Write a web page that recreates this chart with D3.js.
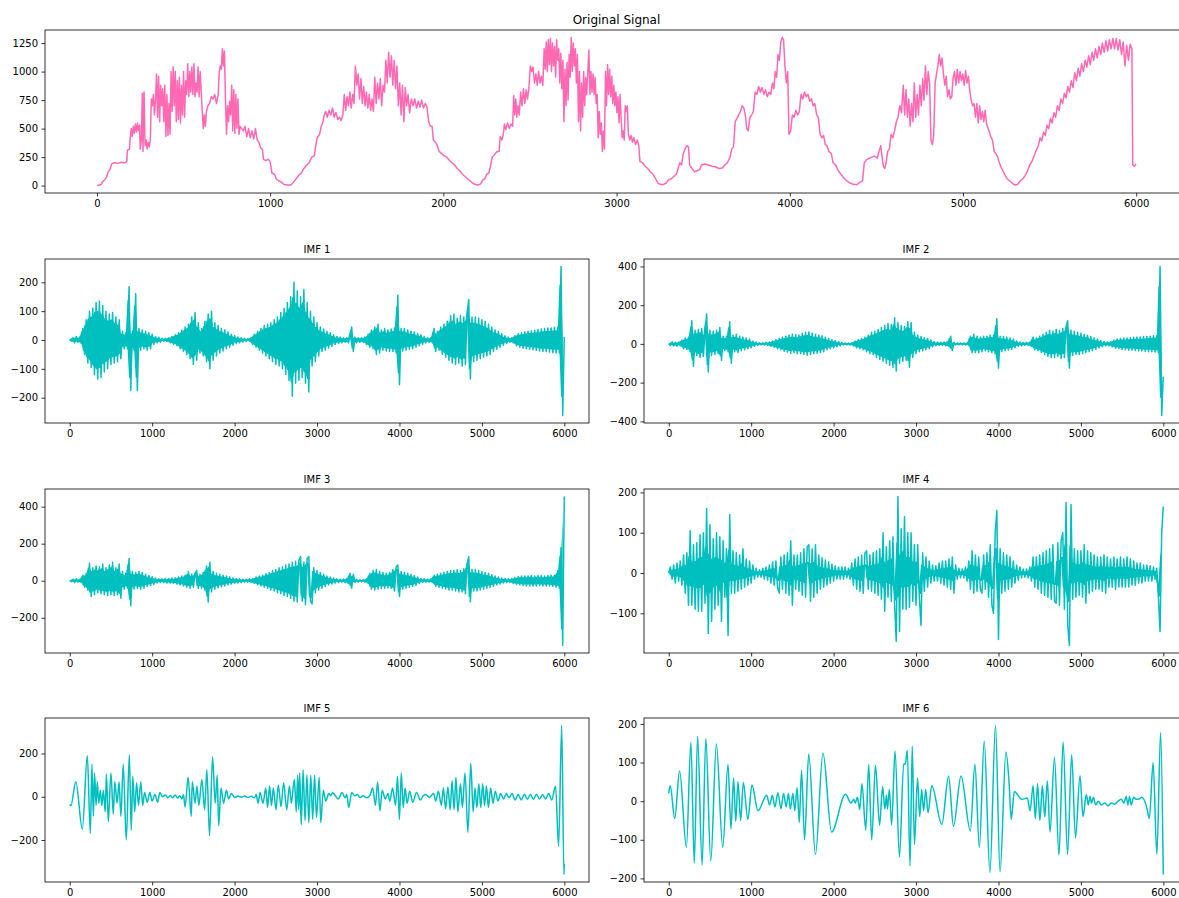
<!DOCTYPE html>
<html>
<head>
<meta charset="utf-8">
<script src="https://cdn.jsdelivr.net/npm/d3@7"></script>
<style>
  body { margin: 0; background: #fff; }
  svg { display: block; font-family: "DejaVu Sans", sans-serif; }
</style>
</head>
<body>
<svg id="chart" width="1179" height="898"></svg>
<script>
// EMD decomposition: original signal + 6 IMFs

const xTicks = [0, 1000, 2000, 3000, 4000, 5000, 6000];
const originalYTicks = [0, 250, 500, 750, 1000, 1250];
const imf1YTicks = [-200, -100, 0, 100, 200];
const imf2YTicks = [-400, -200, 0, 200, 400];
const imf3YTicks = [-200, 0, 200, 400];
const imf4YTicks = [-100, 0, 100, 200];
const imf5YTicks = [-200, 0, 200];
const imf6YTicks = [-200, -100, 0, 100, 200];

// original signal, [sample, value]
const originalPts = [
  [0,0],[15,5],[25,10],[30,30],[40,45],[50,60],[55,75],[65,120],[75,140],[85,190],[100,200],[120,195],[140,205],[160,200],[172,210],[176,310],[188,320],[192,420],[198,500],[204,430],
  [210,520],[216,460],[222,540],[228,470],[234,550],[240,480],[246,530],[250,320],[256,400],[262,810],[266,300],[272,820],[278,350],[284,400],[290,320],[296,380],[302,340],[308,400],[314,760],[320,700],
  [326,800],[332,620],[338,750],[344,980],[350,600],[356,960],[362,560],[368,880],[374,700],[380,850],[386,560],[392,880],[398,430],[404,800],[410,440],[416,720],[422,450],[428,1000],[434,650],[440,1040],
  [446,700],[452,1000],[458,560],[464,920],[470,580],[476,950],[482,550],[488,880],[494,620],[500,1000],[506,600],[512,920],[518,800],[524,1070],[530,780],[536,1000],[542,820],[548,1040],[554,800],[560,1070],
  [566,780],[572,900],[578,820],[584,1040],[590,780],[596,1000],[602,820],[608,650],[614,500],[620,620],[626,520],[632,650],[640,700],[650,720],[660,780],[670,760],[680,800],[690,720],[700,800],[706,1000],
  [712,1050],[718,1020],[724,1200],[730,1050],[736,1180],[742,750],[748,450],[754,700],[760,560],[766,740],[772,620],[778,880],[784,480],[790,840],[796,460],[802,800],[808,500],[814,760],[820,450],[826,520],
  [835,500],[845,480],[855,520],[865,430],[875,500],[885,420],[895,480],[905,410],[915,500],[925,400],[935,380],[945,330],[955,320],[962,230],[975,220],[990,230],[1000,210],
  [1010,110],[1025,100],[1035,60],[1050,40],[1065,30],[1080,10],[1100,5],[1120,5],[1135,30],[1150,60],[1165,90],[1180,110],[1195,150],[1210,180],[1225,200],[1240,250],[1255,260],[1262,340],[1272,420],[1285,450],
  [1295,520],[1305,560],[1312,620],[1320,650],[1330,600],[1340,660],[1350,620],[1360,680],[1370,600],[1380,640],[1390,580],[1400,600],[1410,570],[1420,620],[1428,800],[1436,660],[1444,780],[1452,700],[1460,820],[1468,680],
  [1476,800],[1484,720],[1492,1050],[1500,880],[1508,980],[1516,760],[1524,940],[1532,720],[1540,870],[1548,700],[1556,820],[1564,680],[1572,800],[1580,660],[1588,760],[1596,650],[1604,950],[1612,720],[1620,900],[1628,760],
  [1636,940],[1644,700],[1652,880],[1660,820],[1668,1100],[1676,900],[1684,1170],[1692,950],[1700,1140],[1708,880],[1716,1100],[1724,850],[1732,1050],[1740,700],[1748,900],[1756,620],[1764,880],[1772,560],[1780,860],[1788,700],
  [1796,800],[1805,640],[1815,760],[1825,700],[1835,760],[1845,680],[1855,740],[1865,690],[1875,750],[1885,680],[1895,720],[1905,690],[1915,560],[1925,520],[1935,520],[1942,400],[1955,380],[1965,350],[1975,300],[1990,280],
  [2005,260],[2020,250],[2035,220],[2050,200],[2065,180],[2080,150],[2095,130],[2110,100],[2125,80],[2140,60],[2155,40],[2170,20],[2185,10],[2200,5],[2215,15],[2228,50],[2240,60],[2250,100],[2262,110],[2272,170],
  [2282,250],[2295,270],[2310,300],[2322,300],[2328,430],[2338,400],[2346,450],[2352,540],[2360,490],[2370,550],[2380,500],[2390,540],[2400,520],[2406,790],[2412,620],[2418,760],[2424,600],[2430,700],[2438,620],[2446,820],
  [2454,700],[2462,850],[2470,720],[2478,840],[2486,760],[2494,860],[2502,1050],[2510,1000],[2518,1040],[2526,900],[2534,980],[2542,880],[2550,1000],[2558,900],[2566,960],[2574,880],[2582,1200],[2588,1020],[2594,1260],[2600,1000],
  [2606,1280],[2612,1060],[2618,1290],[2624,1000],[2630,1250],[2636,1050],[2642,1220],[2648,950],[2654,1280],[2660,1100],[2666,1200],[2672,900],[2678,1160],[2684,850],[2690,1100],[2696,560],[2702,1020],[2708,700],[2714,1080],[2720,750],
  [2726,1150],[2732,950],[2738,1300],[2744,1000],[2750,1250],[2756,1050],[2762,1200],[2768,900],[2774,1150],[2780,560],[2786,1000],[2792,480],[2798,900],[2804,600],[2810,1000],[2816,700],[2822,950],[2828,800],[2834,1000],[2840,1190],
  [2846,800],[2852,1000],[2858,820],[2864,980],[2870,800],[2876,950],[2882,720],[2888,800],[2894,420],[2900,650],[2906,450],[2912,550],[2918,300],[2924,480],[2930,320],[2936,1000],[2942,700],[2948,1060],[2954,800],[2960,1020],
  [2966,780],[2972,960],[2978,720],[2984,880],[2990,700],[2996,820],[3002,640],[3008,780],[3014,550],[3020,800],[3026,600],[3032,420],[3038,480],[3044,400],[3050,700],[3056,650],[3062,700],[3068,450],[3076,400],[3084,440],
  [3092,380],[3100,420],[3110,360],[3120,400],[3128,350],[3135,210],[3150,200],[3165,170],[3180,150],[3195,120],[3210,100],[3225,60],[3240,20],[3255,10],[3270,10],[3285,20],[3300,50],[3315,60],[3330,80],[3345,100],
  [3355,150],[3365,200],[3375,180],[3385,280],[3395,320],[3405,350],[3415,340],[3422,180],[3435,150],[3450,120],[3465,130],[3480,140],[3490,180],[3510,190],[3530,180],[3550,170],[3570,165],[3590,150],[3610,155],[3625,180],
  [3640,200],[3655,250],[3665,320],[3675,340],[3685,560],[3695,590],[3705,620],[3715,650],[3725,700],[3735,680],[3745,600],[3752,500],[3760,480],[3770,600],[3780,620],[3790,650],[3800,820],[3810,800],[3820,870],[3830,820],
  [3840,860],[3850,800],[3860,840],[3870,780],[3880,820],[3890,800],[3900,900],[3908,850],[3916,1000],[3924,950],[3932,1150],[3940,1100],[3948,1260],[3956,1300],[3964,1280],[3972,1050],[3980,900],[3988,1000],[3995,450],[4005,480],
  [4015,620],[4025,600],[4035,660],[4045,620],[4055,650],[4065,800],[4075,760],[4085,820],[4095,780],[4105,800],[4115,740],[4125,760],[4135,700],[4145,720],[4155,620],[4165,600],[4175,450],[4185,420],[4195,440],[4205,360],
  [4215,350],[4225,300],[4240,280],[4250,200],[4265,180],[4280,130],[4295,100],[4310,70],[4330,40],[4350,20],[4370,10],[4390,10],[4405,30],[4420,40],[4430,200],[4445,230],[4460,240],[4475,250],[4490,260],[4505,240],
  [4515,300],[4525,350],[4532,260],[4540,170],[4548,150],[4556,200],[4565,300],[4575,320],[4585,450],[4595,420],[4605,480],[4615,560],[4625,600],[4635,700],[4645,640],[4655,880],[4663,620],[4671,840],[4679,600],[4687,760],
  [4695,520],[4703,720],[4711,560],[4719,900],[4727,600],[4735,800],[4743,620],[4751,880],[4759,700],[4767,940],[4775,750],[4783,1050],[4791,800],[4799,1000],[4807,900],[4815,400],[4823,360],[4831,450],[4839,900],[4847,980],
  [4855,1050],[4863,1150],[4871,1050],[4879,1120],[4887,980],[4895,880],[4903,960],[4911,780],[4919,840],[4927,760],[4935,780],[4943,950],[4951,1000],[4959,880],[4967,1020],[4975,900],[4983,1000],[4991,920],[4999,980],[5007,880],
  [5015,1010],[5023,900],[5031,960],[5040,820],[5048,740],[5056,700],[5064,720],[5072,600],[5080,720],[5088,550],[5096,700],[5104,580],[5112,650],[5120,560],[5128,660],[5136,540],[5150,480],[5160,430],[5170,400],[5180,300],
  [5190,280],[5200,250],[5210,200],[5220,160],[5230,130],[5240,100],[5255,60],[5270,40],[5285,20],[5300,5],[5315,10],[5330,40],[5345,60],[5360,90],[5370,120],[5385,180],[5400,220],[5410,260],[5420,300],[5435,350],
  [5445,420],[5455,390],[5465,470],[5475,440],[5485,530],[5495,500],[5505,590],[5515,550],[5525,640],[5535,600],[5545,700],[5555,660],[5565,760],[5575,720],[5585,810],[5595,770],[5605,870],[5615,820],[5625,920],[5635,860],
  [5645,990],[5655,920],[5665,1030],[5675,960],[5685,1070],[5695,1000],[5705,1100],[5715,1040],[5725,1140],[5735,1060],[5745,1170],[5755,1100],[5765,1200],[5775,1120],[5785,1220],[5795,1150],[5805,1250],[5815,1170],[5825,1270],[5835,1180],
  [5845,1280],[5855,1200],[5865,1290],[5875,1200],[5885,1290],[5895,1190],[5905,1280],[5915,1150],[5925,1260],[5935,1050],[5945,1230],[5955,1100],[5965,1240],[5975,1200],[5980,180],[5990,170],[5999,190]
];

// IMF 1-4: one value every 20 samples (last one is sample 5999)
const imf1 = [
  3,-4,8,-10,12,-8,10,-12,40,-50,70,-80,100,-95,110,-120,130,-135,135,-130,
  120,-110,100,-100,90,-85,95,-80,80,-75,70,-65,30,-30,25,-30,185,-175,30,-35,
  160,-175,40,-35,35,-30,30,-35,25,-30,20,-15,12,-10,10,-8,6,-5,6,-5,
  8,-10,12,-15,18,-20,25,-30,35,-40,45,-50,55,-65,80,-85,95,-70,60,-45,
  40,-55,65,-75,90,-100,100,-70,60,-55,50,-45,40,-38,35,-30,28,-25,20,-18,
  15,-12,10,-10,8,-7,6,-5,5,-4,8,-15,20,-25,30,-35,40,-45,50,-55,
  55,-65,60,-75,70,-85,80,-90,95,-100,110,-120,130,-140,150,-195,200,-150,170,-140,
  150,-130,175,-150,130,-180,100,-90,80,-75,60,-55,45,-40,38,-35,30,-28,25,-22,
  18,-15,12,-12,10,-10,8,-8,8,-10,12,45,-40,10,-10,8,-8,8,-8,10,
  -15,20,-25,35,-30,45,-50,55,-45,35,-35,40,-38,35,-40,38,-40,42,-45,155,
  -155,40,-38,40,-35,35,-32,30,-30,28,-25,22,-20,18,-15,12,-10,8,-8,8,
  -10,40,-40,30,-35,45,-50,55,-60,65,-70,85,-80,90,-85,75,-80,85,-90,80,
  -85,90,140,-135,80,-75,80,-70,75,-65,70,-60,65,-55,55,-50,45,-40,35,-32,
  30,-25,22,-18,15,-12,10,-8,8,-10,15,-20,22,-25,25,-28,28,-30,30,-32,
  32,-34,34,-36,36,-38,38,-40,40,-40,42,-42,42,-44,44,-45,45,-45,255,-262,
  10
];
const imf2 = [
  2,-8,10,-10,8,-12,10,-10,20,-25,30,-28,35,-40,120,-115,70,-60,75,-70,
  80,-65,60,155,-145,70,-60,65,-55,70,-50,85,-85,40,-35,40,-40,115,-100,45,
  -40,50,-45,40,-35,35,-30,30,-25,25,-20,15,-12,10,-8,6,-5,6,-6,8,
  -8,10,-12,15,-18,22,-25,28,-30,35,-38,40,-42,45,-48,50,-45,48,-50,45,
  -50,55,-55,60,-58,62,-55,55,-50,50,-48,45,-45,42,-40,35,-30,28,-25,22,
  -20,18,-15,12,-10,8,-6,5,-5,4,-5,6,-10,15,-20,22,-25,28,-30,35,
  -40,45,-50,60,-55,65,-70,75,-80,85,-90,95,-100,105,-110,100,-120,135,-140,110,
  -100,95,-90,90,-85,115,-120,110,-70,60,-50,45,-40,38,-35,32,-30,28,-25,20,
  -15,12,-10,10,-8,8,-8,10,-10,12,-15,40,-35,8,-6,5,-5,5,-5,5,
  -5,6,-8,40,-45,50,-45,40,-45,35,-40,40,-35,40,-40,45,-45,45,-50,130,
  -125,40,-40,38,-35,35,-32,30,-28,25,-20,15,-12,10,-10,8,-8,8,-8,10,
  -12,35,-30,30,-35,40,-45,50,-55,60,-65,70,-70,65,-70,75,-65,70,-75,80,
  -70,90,120,-125,70,-60,65,-55,60,-55,55,-50,50,-45,45,-40,38,-35,30,-28,
  25,-20,18,-15,12,-10,10,-10,12,-15,20,-22,25,-25,28,-28,30,-30,30,-32,
  32,-32,34,-34,35,-35,36,-36,38,-38,38,-40,40,-40,42,-42,42,-45,400,-370,
  -170
];
const imf3 = [
  2,-5,8,-10,10,-8,8,-10,30,-35,40,-50,95,-85,70,-75,80,-65,75,-70,
  90,-75,70,-80,85,-75,100,-80,70,-75,90,-95,50,-45,40,-40,120,-135,50,-45,
  45,-40,50,-45,45,-40,35,-30,28,-25,22,-20,15,-12,10,-10,10,-10,12,-12,
  12,-12,14,-14,15,-18,20,-22,25,-28,30,-35,50,-40,35,-35,38,55,-40,35,
  -40,45,-50,80,-115,100,-60,50,-45,40,-38,35,-32,30,-28,25,-22,20,-18,15,
  -14,12,-12,10,-10,8,-8,8,-8,10,-10,12,-15,20,-22,25,-28,30,-35,38,
  -40,45,-50,55,-55,60,-65,70,-70,75,-80,85,-85,90,-95,100,-110,105,-115,110,
  130,-110,100,-130,120,130,-110,-125,70,-65,55,-50,45,-40,35,-30,25,-22,20,-18,
  15,-12,10,-10,8,-8,8,-10,12,-15,40,-40,35,-10,8,-8,6,-6,6,-8,
  10,-15,40,-45,55,-50,60,-45,50,-40,45,-40,40,-38,45,-40,60,-55,75,85,
  -85,50,-45,45,-40,40,-35,35,-30,28,-25,20,-15,12,-10,10,-8,8,-8,10,
  -10,30,-30,35,-35,40,-40,45,-45,50,-50,55,-50,55,-55,60,-60,55,-60,65,
  -70,90,130,-115,60,-55,60,-55,55,-50,50,-45,45,-40,40,-35,32,-30,25,-22,
  20,-18,15,-12,12,-10,10,-10,12,-15,18,-20,22,-22,25,-25,25,-28,25,-28,
  28,-28,25,-28,28,-25,28,-28,25,-28,28,-28,30,-30,30,-35,55,-40,180,-350,
  455
];
const imf4 = [
  0,15,-15,20,-25,25,-20,30,-30,45,-50,50,-80,105,-80,70,-90,75,-95,95,
  -95,100,-75,160,-150,120,-120,85,-90,100,-80,90,-120,80,-60,60,-155,145,-50,55,
  -50,50,-45,45,-40,60,-35,35,-30,30,-25,20,-15,12,-10,8,-10,12,-15,15,
  -18,20,-25,28,-30,30,-35,-50,40,-40,45,-50,50,-55,80,-80,45,-40,45,-45,
  50,-55,60,-60,65,70,-70,60,-60,70,-50,45,-40,38,-35,32,-30,28,-25,22,
  -20,18,-15,15,-15,15,-15,15,-12,12,-15,25,-30,35,-40,40,-45,45,-50,50,
  55,-40,45,-45,50,-50,55,-55,60,-65,100,-95,65,-60,80,-70,90,-80,-170,190,
  -145,110,-90,140,-90,100,-85,100,-70,70,-80,70,-60,-130,50,-45,40,-35,30,-25,
  20,-20,18,-20,25,-25,30,-30,30,-35,35,-40,40,-50,20,-15,12,-12,10,-12,
  15,-20,30,-40,55,-50,45,-45,40,-40,-50,45,-40,50,-60,70,-80,-100,100,155,
  -165,60,-50,50,-45,45,-40,40,-35,30,-25,20,-18,15,-12,10,-10,10,-12,15,
  -20,40,-35,40,-40,45,-50,50,-55,55,-60,60,-65,70,-70,-75,75,-80,80,100,
  -90,175,-130,-180,170,-65,60,-60,55,-55,55,-60,70,-75,55,-50,50,-45,45,-40,
  40,-40,40,-45,45,-50,40,-35,35,-35,40,-40,35,-35,40,-35,35,-35,40,-35,
  35,-30,30,-30,25,-25,25,-25,20,-20,20,-20,18,-20,15,-15,12,-60,-145,100,
  165
];

// IMF 5-6: turning points [sample, value]
const imf5Pts = [
  [0,-35],[14,-42],[74,70],[153,-150],[213,190],[250,-170],[269,150],[287,-90],[301,110],[320,-40],[334,70],[352,-30],[371,30],[389,-40],[408,30],[430,-70],[445,105],[468,-115],[500,110],[528,-80],
  [547,70],[575,-30],[598,70],[621,-90],[649,150],[686,-200],[723,195],[746,-155],[765,95],[788,-70],[811,65],[834,-40],[862,70],[885,-40],[908,20],[940,-25],[973,20],[1000,-20],[1033,10],[1066,-25],
  [1094,20],[1126,0],[1160,8],[1190,-5],[1220,6],[1250,-5],[1280,8],[1310,-6],[1335,5],[1360,-10],[1380,10],[1400,-48],[1436,90],[1474,-90],[1487,70],[1520,-30],[1543,50],[1566,-40],[1603,80],[1636,-60],
  [1663,125],[1696,-180],[1733,185],[1765,-30],[1789,100],[1807,-135],[1835,40],[1867,-30],[1900,30],[1928,-10],[1960,15],[2000,-3],[2040,3],[2080,-2],[2120,3],[2160,-3],[2200,2],[2240,-5],[2262,10],[2285,-30],
  [2308,20],[2345,-30],[2378,40],[2400,-50],[2424,50],[2447,-40],[2470,40],[2502,-60],[2530,55],[2563,-45],[2595,65],[2632,-60],[2665,50],[2688,-30],[2725,80],[2748,-70],[2765,100],[2778,-60],[2790,110],[2808,-130],
  [2831,125],[2854,-110],[2878,100],[2900,-120],[2924,100],[2947,-105],[2970,100],[2993,-95],[3026,90],[3045,-120],[3077,30],[3105,-20],[3142,15],[3165,5],[3188,18],[3258,-10],[3304,20],[3340,-5],[3360,10],[3385,-50],
  [3420,20],[3460,5],[3490,10],[3520,-3],[3560,5],[3600,-5],[3640,5],[3675,40],[3708,-40],[3735,70],[3763,-65],[3790,30],[3828,-10],[3860,15],[3883,-20],[3916,40],[3953,-40],[3976,95],[3999,-105],[4022,110],
  [4045,-50],[4068,40],[4092,-30],[4124,25],[4161,-25],[4207,20],[4254,-15],[4290,5],[4323,10],[4360,-3],[4416,15],[4439,-20],[4472,25],[4509,-40],[4532,40],[4560,-55],[4587,45],[4615,-60],[4638,75],[4662,-60],
  [4685,90],[4708,-70],[4740,60],[4763,-50],[4795,110],[4830,-165],[4865,155],[4893,-70],[4916,40],[4939,-50],[4963,60],[4986,-50],[5009,60],[5032,-40],[5055,50],[5078,-50],[5106,40],[5134,-30],[5162,25],[5195,-20],
  [5227,15],[5264,-10],[5297,15],[5329,-5],[5366,15],[5403,-15],[5440,10],[5477,-15],[5514,12],[5551,-12],[5588,10],[5625,-12],[5662,12],[5699,-10],[5736,10],[5773,-10],[5810,15],[5847,-15],[5893,50],[5930,-230],
  [5968,330],[5995,-360],[5999,-310]
];
const imf6Pts = [
  [0,20],[18,40],[73,-45],[132,78],[214,-120],[269,152],[310,-160],[350,168],[405,-165],[450,162],[510,-155],[578,148],[655,-120],[719,95],[755,-72],[787,60],[813,-52],[840,50],[872,-50],[905,48],
  [960,-47],[1010,42],[1083,-25],[1188,15],[1224,-10],[1256,15],[1288,-15],[1324,22],[1361,-20],[1393,20],[1425,-15],[1452,20],[1475,-20],[1506,20],[1529,-25],[1557,35],[1584,-55],[1611,80],[1648,-100],[1698,122],
  [1780,-138],[1871,125],[1975,-80],[2144,18],[2212,-5],[2244,5],[2262,-5],[2289,10],[2317,-22],[2344,45],[2390,-75],[2426,95],[2462,-100],[2508,92],[2558,-62],[2594,38],[2622,-20],[2640,15],[2653,-20],[2676,30],
  [2704,-62],[2745,130],[2799,-145],[2850,97],[2868,95],[2895,132],[2927,-168],[2954,142],[2981,-112],[3018,60],[3045,-40],[3068,30],[3091,-25],[3118,30],[3145,-30],[3191,40],[3313,-60],[3395,65],[3454,-65],[3546,65],
  [3659,-77],[3714,96],[3768,-120],[3827,155],[3896,-185],[3964,196],[4019,-183],[4091,127],[4128,50],[4155,-47],[4192,25],[4283,5],[4351,8],[4383,-25],[4420,40],[4447,-45],[4474,45],[4502,-50],[4533,40],[4561,-40],
  [4593,52],[4625,-80],[4679,113],[4734,-140],[4784,153],[4838,-138],[4888,120],[4934,-95],[4989,66],[5025,-40],[5066,17],[5090,-10],[5110,12],[5130,-5],[5150,10],[5180,-10],[5210,0],[5250,-10],[5290,-5],[5330,-12],
  [5370,-5],[5410,-8],[5450,0],[5490,5],[5520,-5],[5550,12],[5570,-10],[5590,12],[5610,-10],[5640,10],[5670,5],[5700,5],[5740,10],[5803,-20],[5830,-45],[5876,100],[5921,-138],[5967,178],[5999,-190]
];

const pink = "#ff69b4";
const cyan = "#00bfbf";

const svg = d3.select("#chart");

// sampled series -> [sample, value]
function toPts(vals) {
  return vals.map((v, i) => [Math.min(i * 20, 5999), v]);
}

// matplotlib-style 5% margins
function pad(ext) {
  const m = (ext[1] - ext[0]) * 0.05;
  return [ext[0] - m, ext[1] + m];
}

// band: how much of each sample-to-sample swing is drawn solid (0 = line only)
const panels = [
  { title: "Original Signal", pts: originalPts, yTicks: originalYTicks, color: pink, curve: d3.curveLinear, band: 0, left: 45, top: 30, w: 1143, h: 163, titleSize: 12 },
  { title: "IMF 1", pts: toPts(imf1), yTicks: imf1YTicks, color: cyan, curve: d3.curveLinear, band: 0.75, left: 45, top: 259, w: 544, h: 164, titleSize: 10 },
  { title: "IMF 2", pts: toPts(imf2), yTicks: imf2YTicks, color: cyan, curve: d3.curveLinear, band: 0.75, left: 644, top: 259, w: 544, h: 164, titleSize: 10 },
  { title: "IMF 3", pts: toPts(imf3), yTicks: imf3YTicks, color: cyan, curve: d3.curveLinear, band: 0.75, left: 45, top: 489, w: 544, h: 164, titleSize: 10 },
  { title: "IMF 4", pts: toPts(imf4), yTicks: imf4YTicks, color: cyan, curve: d3.curveLinear, band: 0.4, left: 644, top: 489, w: 544, h: 164, titleSize: 10 },
  { title: "IMF 5", pts: imf5Pts, yTicks: imf5YTicks, color: cyan, curve: d3.curveMonotoneX, band: 0, left: 45, top: 718, w: 544, h: 164, titleSize: 10 },
  { title: "IMF 6", pts: imf6Pts, yTicks: imf6YTicks, color: cyan, curve: d3.curveMonotoneX, band: 0, left: 644, top: 718, w: 544, h: 164, titleSize: 10 }
];

panels.forEach(p => {
  const g = svg.append("g").attr("transform", `translate(${p.left},${p.top})`);
  const x = d3.scaleLinear().domain(pad([0, 5999])).range([0, p.w]);
  const y = d3.scaleLinear().domain(pad(d3.extent(p.pts, d => d[1]))).range([p.h, 0]);

  // the high-frequency IMFs oscillate many times per pixel, so the core of
  // the swing between neighbouring samples reads as a solid band
  if (p.band > 0) {
    const span = p.pts.slice(0, -1).map((d, i) => {
      const nxt = p.pts[i + 1][1];
      return [d[0], p.band * Math.min(d[1], nxt), p.band * Math.max(d[1], nxt)];
    });
    g.append("path")
      .datum(span)
      .attr("fill", p.color)
      .attr("d", d3.area().x(d => x(d[0])).y0(d => y(d[1])).y1(d => y(d[2])));
  }

  g.append("path")
    .datum(p.pts)
    .attr("fill", "none")
    .attr("stroke", p.color)
    .attr("stroke-width", 1.5)
    .attr("stroke-linejoin", "round")
    .attr("d", d3.line().x(d => x(d[0])).y(d => y(d[1])).curve(p.curve));

  const xa = g.append("g")
    .attr("transform", `translate(0,${p.h})`)
    .call(d3.axisBottom(x).tickValues(xTicks).tickSize(3.5).tickPadding(3.5).tickFormat(d3.format("d")));
  const ya = g.append("g")
    .call(d3.axisLeft(y).tickValues(p.yTicks).tickSize(3.5).tickPadding(3.5).tickFormat(d3.format("d")));

  [xa, ya].forEach(a => {
    a.select(".domain").remove();
    a.attr("font-family", null).attr("font-size", 10);
    a.selectAll("line").attr("stroke", "#000").attr("stroke-width", 0.8);
    a.selectAll("text").attr("fill", "#000");
  });

  g.append("rect")
    .attr("width", p.w)
    .attr("height", p.h)
    .attr("fill", "none")
    .attr("stroke", "#000")
    .attr("stroke-width", 0.8);

  g.append("text")
    .attr("x", p.w / 2)
    .attr("y", -6)
    .attr("text-anchor", "middle")
    .attr("font-size", p.titleSize)
    .attr("fill", "#000")
    .text(p.title);
});
</script>
</body>
</html>
